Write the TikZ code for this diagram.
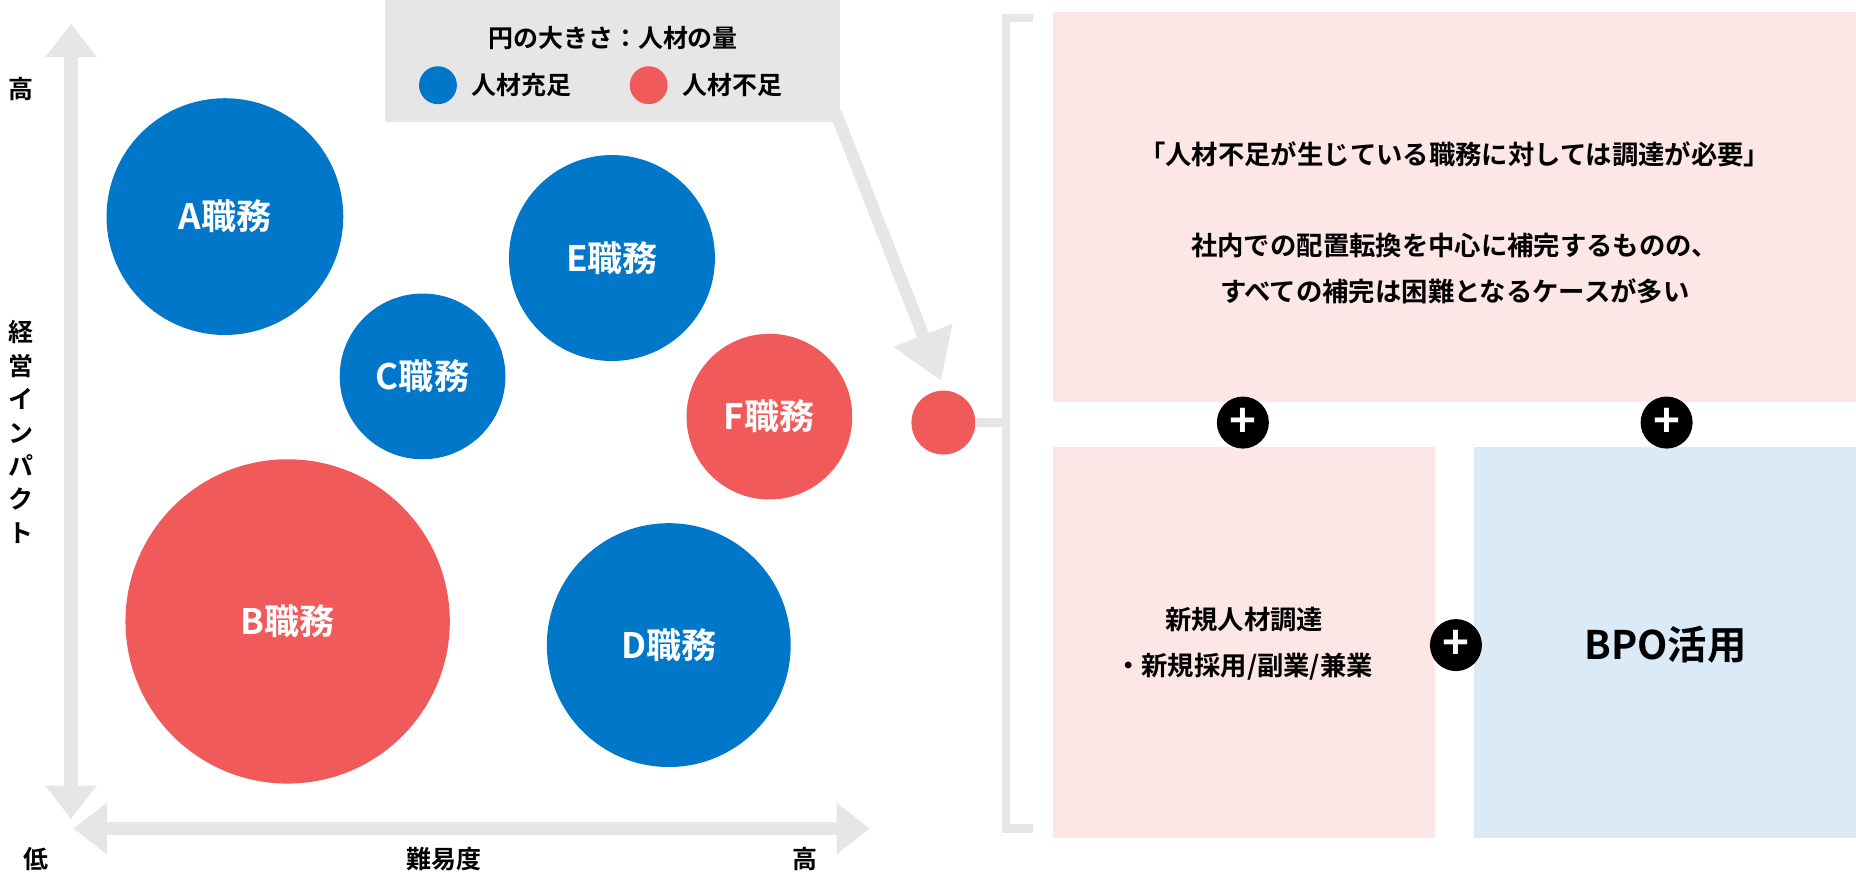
\documentclass[tikz,border=0pt]{standalone}
\usepackage{fontspec}
\setmainfont{Noto Sans CJK JP}[BoldFont={* Bold}]
\usetikzlibrary{arrows.meta,positioning}
\definecolor{jblue}{RGB}{0,119,200}
\definecolor{jred}{RGB}{240,90,90}
\definecolor{jpink}{RGB}{252,230,230}
\definecolor{jlblue}{RGB}{218,234,246}
\definecolor{jgray}{RGB}{230,230,230}
\tikzset{
    job/.style={
           circle,
           inner sep=0pt,
           text=white,
           font=\fontsize{10}{12}\selectfont\bfseries
           },
    axis/.style={
           draw=jgray,
           line width=3.8pt,
           {Triangle[length=9.5pt,width=14pt]}-{Triangle[length=9.5pt,width=14pt]}
           },
    lbl/.style={
           font=\fontsize{7.1}{9.5}\selectfont\bfseries
           },
    panel/.style={
           inner sep=0pt,
           align=center,
           font=\fontsize{7.5}{13}\selectfont\bfseries
           },
    plus/.style={
           circle,
           fill=black,
           minimum size=14.8pt,
           inner sep=0pt,
           text=white,
           font=\fontsize{13}{13}\selectfont\bfseries
           }
}
\begin{document}
\begin{tikzpicture}[x=0.011837cm,y=-0.011837cm]
\useasboundingbox (0,0) rectangle (1568,740);
% axes
\draw[axis] (60,20) -- (60,692);
\draw[axis] (62,700) -- (735,700);
\node[lbl] (yhi) at (18,75) {高};
\node[lbl] (ylo) at (30,726) {低};
\node[lbl,align=center] (ylab) at (18,365) {経\\営\\イ\\ン\\パ\\ク\\ト};
\node[lbl] (xlab) at (375,726) {難易度};
\node[lbl] (xhi) at (680,726) {高};
% legend
\fill[jgray] (325,0) rectangle (710,103);
\node[lbl] (leg) at (518,32) {円の大きさ：人材の量};
\fill[jblue] (370,72) circle (16);
\node[lbl,right] (legb) at (388,72) {人材充足};
\fill[jred] (548,72) circle (16);
\node[lbl,right] (legr) at (566,72) {人材不足};
% jobs
\fill[jblue] (190,183) circle (100);  \node[job] (A) at (190,183) {A職務};
\fill[jblue] (517,218) circle (87);   \node[job] (E) at (517,218) {E職務};
\fill[jblue] (357,318) circle (70);   \node[job] (C) at (357,318) {C職務};
\fill[jred]  (650,352) circle (70);   \node[job] (F) at (650,352) {F職務};
\fill[jred]  (243,525) circle (137);  \node[job] (B) at (243,525) {B職務};
\fill[jblue] (565,545) circle (103);  \node[job] (D) at (565,545) {D職務};
% pointer
\fill[jred] (797,357) circle (27);
\coordinate (s) at (706,95);
\coordinate (t) at (795,322);
\draw[draw=jgray,line width=3.5pt,-{Triangle[length=14pt,width=17pt]}] (s) -- (t);
\draw[jgray,line width=2.4pt] (824,357) -- (850,357);
\draw[jgray,line width=2.4pt] (873,15) -- (850,15) -- (850,700) -- (873,700);
% panels
\fill[jpink] (890,10) rectangle (1568,340);
\node[panel] (top) at (1229,188) {「人材不足が生じている職務に対しては調達が必要」\\[3.2ex]社内での配置転換を中心に補完するものの、\\すべての補完は困難となるケースが多い};
\fill[jpink] (890,378) rectangle (1212,708);
\node[panel] (hire) at (1051,544) {新規人材調達\\・新規採用/副業/兼業};
\fill[jlblue] (1245,378) rectangle (1568,708);
\node[panel,font=\fontsize{11.2}{13}\selectfont\bfseries] (bpo) at (1407,545) {BPO活用};
\node[plus] (p1) at (1050,357) {+};
\node[plus] (p2) at (1408,357) {+};
\node[plus] (p3) at (1230,545) {+};
\end{tikzpicture}
\end{document}
